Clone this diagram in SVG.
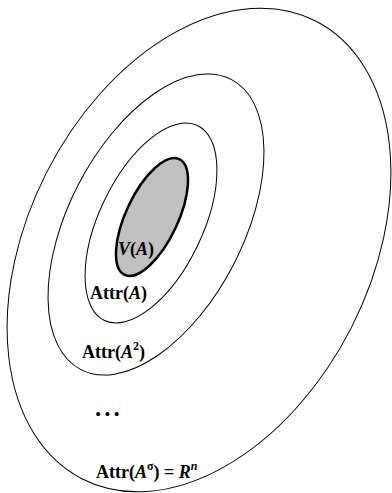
<svg xmlns="http://www.w3.org/2000/svg" width="392" height="493" viewBox="0 0 392 493">
  <style>
    .ring { fill: none; stroke: #000; stroke-width: 1; }
    .core { fill: #c0c0c0; stroke: #000; stroke-width: 2.5; }
    text { font-family: "Liberation Serif", "Times New Roman", serif; font-weight: bold; font-size: 18px; fill: #000; }
    .it { font-style: italic; }
    .sup { font-size: 12px; }
    text.dots { font-size: 25px; letter-spacing: 3px; }
  </style>
  <rect width="392" height="493" fill="#fff"/>
  <g id="attr-sigma">
    <ellipse class="ring" cx="199" cy="250" rx="171" ry="257" transform="rotate(27 199 250)"/>
    <text x="96" y="478">Attr(<tspan class="it">A</tspan><tspan class="sup" dy="-8">σ</tspan><tspan dy="8">) = </tspan><tspan class="it">R</tspan><tspan class="sup it" dy="-8">n</tspan></text>
  </g>
  <g id="attr-a2">
    <ellipse class="ring" cx="156" cy="224.5" rx="87.3" ry="163.4" transform="rotate(27.4 156 224.5)"/>
    <text x="82" y="358">Attr(<tspan class="it">A</tspan><tspan class="sup" dy="-8">2</tspan><tspan dy="8">)</tspan></text>
  </g>
  <g id="attr-a">
    <ellipse class="ring" cx="151" cy="223" rx="51.8" ry="108" transform="rotate(25.5 151 223)"/>
    <text x="90" y="299">Attr(<tspan class="it">A</tspan>)</text>
  </g>
  <g id="v-a">
    <ellipse class="core" cx="152" cy="217" rx="26" ry="64" transform="rotate(25.2 152 217)"/>
    <text x="118" y="255"><tspan class="it">V</tspan>(<tspan class="it">A</tspan>)</text>
  </g>
  <g id="ellipsis">
    <text class="dots" x="95" y="416">...</text>
  </g>
</svg>
